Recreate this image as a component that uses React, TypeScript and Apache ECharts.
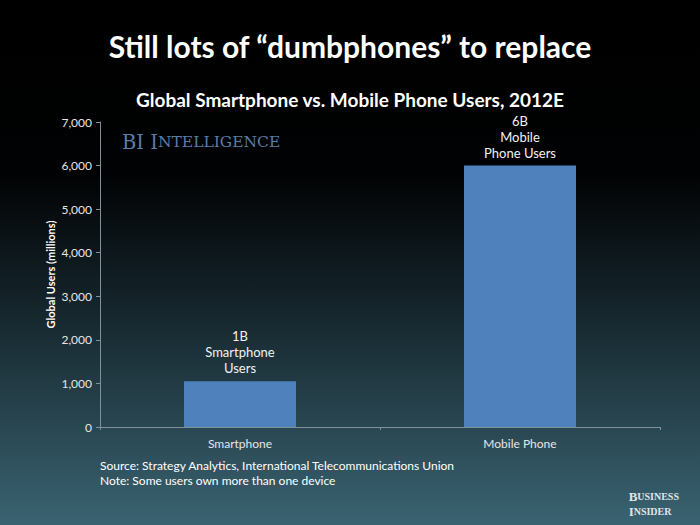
import React, { useEffect, useRef } from "react";
import * as echarts from "echarts";

const categories = ["Smartphone", "Mobile Phone"];
const users = [1050, 6000];
const barLabels = ["1B\nSmartphone\nUsers", "6B\nMobile\nPhone Users"];
const yTicks = { min: 0, max: 7000, interval: 1000 };
const title = "Still lots of \u201cdumbphones\u201d to replace";
const subtitle = "Global Smartphone vs. Mobile Phone Users, 2012E";
const yName = "Global Users (millions)";
const notes = [
  "Source: Strategy Analytics, International Telecommunications Union",
  "Note: Some users own more than one device",
];

const FONT = "Lato, 'Open Sans', sans-serif";

export default function App() {
  const ref = useRef<HTMLDivElement>(null);
  useEffect(() => {
    document.body.style.margin = "0";
    const chart = echarts.init(ref.current!, null, { renderer: "svg" });
    chart.setOption({
      animation: false,
      backgroundColor: {
        type: "linear",
        x: 0,
        y: 0,
        x2: 0,
        y2: 1,
        colorStops: [
          { offset: 0, color: "#000000" },
          { offset: 0.33, color: "#010203" },
          { offset: 0.6, color: "#16272e" },
          { offset: 1, color: "#3a6371" },
        ],
      },
      title: [
        {
          text: title,
          left: "center",
          top: 26,
          textStyle: { color: "#ffffff", fontSize: 30, fontWeight: "bold", fontFamily: FONT },
        },
        {
          text: subtitle,
          left: "center",
          top: 85,
          textStyle: { color: "#ffffff", fontSize: 19, fontWeight: "bold", fontFamily: FONT },
        },
      ],
      grid: { left: 100, right: 40, top: 122, bottom: 98 },
      xAxis: {
        type: "category",
        data: categories,
        axisLine: { lineStyle: { color: "#7f9199", width: 1 } },
        axisTick: { show: true, length: 3, lineStyle: { color: "#7f9199" } },
        axisLabel: { color: "#e6e6e6", fontSize: 12, fontFamily: FONT, margin: 10 },
      },
      yAxis: {
        type: "value",
        min: yTicks.min,
        max: yTicks.max,
        interval: yTicks.interval,
        name: yName,
        nameLocation: "middle",
        nameGap: 44,
        nameMoveOverlap: false,
        nameTextStyle: { color: "#ffffff", fontSize: 11, fontWeight: "bold", fontFamily: FONT },
        axisLine: { show: true, lineStyle: { color: "#7f9199" } },
        axisTick: { show: true, length: 4, lineStyle: { color: "#7f9199" } },
        axisLabel: {
          color: "#e6e6e6",
          fontSize: 12,
          fontFamily: FONT,
          margin: 8,
          formatter: (v: number) => v.toLocaleString("en-US"),
        },
        splitLine: { show: false },
      },
      series: [
        {
          type: "bar",
          data: users,
          barWidth: "40%",
          itemStyle: { color: "#4f81bd" },
          label: {
            show: true,
            position: "top",
            distance: 5,
            color: "#f2f2f2",
            fontSize: 13,
            lineHeight: 16,
            fontFamily: FONT,
            align: "center",
            formatter: (p: any) => barLabels[p.dataIndex],
          },
        },
      ],
      graphic: [
        {
          type: "text",
          left: 122,
          top: 132,
          style: {
            text: "{a|BI I}{b|NTELLIGENCE}",
            rich: {
              a: { fontSize: 19.5, fontFamily: "'DejaVu Serif', serif", fill: "#5b7da9" },
              b: { fontSize: 15.5, fontFamily: "'DejaVu Serif', serif", fill: "#5b7da9" },
            },
          },
        },
        {
          type: "text",
          left: 100,
          top: 458,
          style: {
            text: notes.join("\n"),
            fill: "#ffffff",
            fontSize: 12,
            lineHeight: 15,
            fontFamily: FONT,
          },
        },
        {
          type: "text",
          right: 21,
          top: 490,
          style: {
            text: "{a|B}{b|USINESS}\n{a|I}{b|NSIDER}",
            align: "right",
            rich: {
              a: { fontSize: 13, fontWeight: "bold", fontFamily: "'Liberation Serif', serif", fill: "#dfe5e8", lineHeight: 15 },
              b: { fontSize: 10, fontWeight: "bold", fontFamily: "'Liberation Serif', serif", fill: "#dfe5e8", lineHeight: 15 },
            },
          },
        },
      ],
    });
    return () => chart.dispose();
  }, []);
  return <div ref={ref} style={{ width: 700, height: 525 }} />;
}
